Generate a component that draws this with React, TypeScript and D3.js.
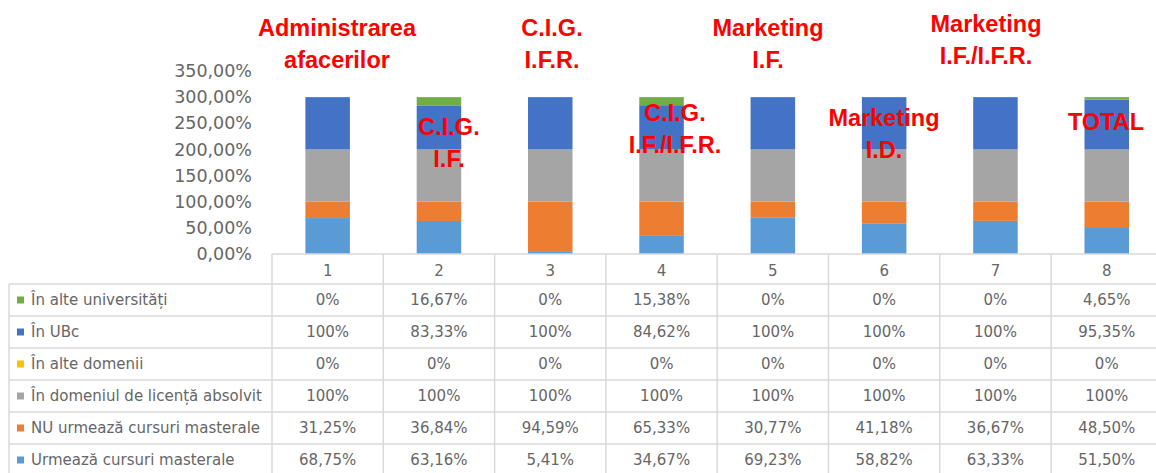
import React from "react";
import * as d3 from "d3";

const categories = ["1", "2", "3", "4", "5", "6", "7", "8"];
const seriesNames = [
  "Urmează cursuri masterale",
  "NU urmează cursuri masterale",
  "În domeniul de licență absolvit",
  "În alte domenii",
  "În UBc",
  "În alte universități",
];
const urmeaza = [68.75, 63.16, 5.41, 34.67, 69.23, 58.82, 63.33, 51.5];
const nuUrmeaza = [31.25, 36.84, 94.59, 65.33, 30.77, 41.18, 36.67, 48.5];
const inDomeniu = [100, 100, 100, 100, 100, 100, 100, 100];
const alteDomenii = [0, 0, 0, 0, 0, 0, 0, 0];
const inUBc = [100, 83.33, 100, 84.62, 100, 100, 100, 95.35];
const alteUniv = [0, 16.67, 0, 15.38, 0, 0, 0, 4.65];
const seriesValues = [urmeaza, nuUrmeaza, inDomeniu, alteDomenii, inUBc, alteUniv];
const seriesColors = ["#5B9BD5", "#ED7D31", "#A5A5A5", "#FFC000", "#4472C4", "#70AD47"];
const yTicks = [0, 50, 100, 150, 200, 250, 300, 350];
const annotations = [
  { lines: ["Administrarea", "afacerilor"], x: 337, y: 28 },
  { lines: ["C.I.G.", "I.F."], x: 449, y: 127 },
  { lines: ["C.I.G.", "I.F.R."], x: 552, y: 28 },
  { lines: ["C.I.G.", "I.F./I.F.R."], x: 675, y: 113 },
  { lines: ["Marketing", "I.F."], x: 768, y: 28 },
  { lines: ["Marketing", "I.D."], x: 884, y: 118 },
  { lines: ["Marketing", "I.F./I.F.R."], x: 986, y: 24 },
  { lines: ["TOTAL"], x: 1106, y: 122 },
];

const fmt = (v: number) =>
  Number.isInteger(v) ? `${v}%` : `${v.toFixed(2).replace(".", ",")}%`;
const fmtAxis = (v: number) => `${v.toFixed(2).replace(".", ",")}%`;

export default function App() {
  const W = 1156, H = 473;
  const plotLeft = 272, plotRight = 1162.4;
  const x = d3.scaleBand<string>().domain(categories).range([plotLeft, plotRight]).paddingInner(0.6).paddingOuter(0.3);
  const colScale = d3.scaleBand<string>().domain(categories).range([plotLeft, plotRight]);
  const y = d3.scaleLinear().domain([0, 350]).range([254, 71]);

  const rows = categories.map((c, i) => {
    const o: any = { cat: c };
    seriesNames.forEach((s, k) => (o[s] = seriesValues[k][i]));
    return o;
  });
  const stack = d3.stack<any>().keys(seriesNames)(rows);

  const tableTop = 254, headerH = 30, rowH = 32;
  const tableLeft = 9;
  const tableRows = [...seriesNames.map((s, k) => ({ name: s, vals: seriesValues[k], color: seriesColors[k] }))].reverse();
  const border = "#D9D9D9";
  const textCol = "#666666";
  const font = "'DejaVu Sans', sans-serif";

  return (
    <svg width={W} height={H} style={{ position: "absolute", left: 0, top: 0, background: "#fff" }}>
      <rect width={W} height={H} fill="#fff" />
      {yTicks.map((t) => (
        <text key={t} x={252} y={y(t)} dy="0.35em" textAnchor="end" fontFamily={font} fontSize={17.5} fill={textCol}>
          {fmtAxis(t)}
        </text>
      ))}
      {stack.map((layer, k) => (
        <g key={layer.key} fill={seriesColors[k]}>
          {layer.map((d, i) =>
            d[1] - d[0] > 0 ? (
              <rect key={i} x={x(categories[i])} width={x.bandwidth()} y={y(d[1])} height={y(d[0]) - y(d[1])} />
            ) : null
          )}
        </g>
      ))}
      <g stroke={border} strokeWidth={1.5} fill="none">
        <line x1={plotLeft} x2={plotRight} y1={tableTop} y2={tableTop} />
        {categories.map((c) => (
          <line key={c} x1={colScale(c)} x2={colScale(c)} y1={tableTop} y2={H} />
        ))}
        <line x1={plotRight} x2={plotRight} y1={tableTop} y2={H} />
        <line x1={tableLeft} x2={tableLeft} y1={tableTop + headerH} y2={H} />
        {tableRows.map((r, i) => (
          <line key={r.name} x1={tableLeft} x2={plotRight} y1={tableTop + headerH + i * rowH} y2={tableTop + headerH + i * rowH} />
        ))}
        <line x1={tableLeft} x2={plotRight} y1={tableTop + headerH + 6 * rowH} y2={tableTop + headerH + 6 * rowH} />
      </g>
      {categories.map((c) => (
        <text key={c} x={colScale(c)! + colScale.bandwidth() / 2} y={tableTop + headerH / 2 + 2} dy="0.35em" textAnchor="middle" fontFamily={font} fontSize={15} fill={textCol}>
          {c}
        </text>
      ))}
      {tableRows.map((r, i) => {
        const cy = tableTop + headerH + i * rowH + rowH / 2;
        return (
          <g key={r.name}>
            <rect x={17} y={cy - 3.5} width={7} height={7} fill={r.color} />
            <text x={31} y={cy} dy="0.35em" fontFamily={font} fontSize={15} fill={textCol}>
              {r.name}
            </text>
            {r.vals.map((v, j) => (
              <text key={j} x={colScale(categories[j])! + colScale.bandwidth() / 2} y={cy} dy="0.35em" textAnchor="middle" fontFamily={font} fontSize={15} fill={textCol}>
                {fmt(v)}
              </text>
            ))}
          </g>
        );
      })}
      {annotations.map((a, i) => (
        <text key={i} textAnchor="middle" fontFamily="'Liberation Sans', Arial, sans-serif" fontWeight="bold" fontSize={23.5} fill="#FF0000">
          {a.lines.map((l, k) => (
            <tspan key={k} x={a.x} y={a.y + k * 32} dy="0.35em">
              {l}
            </tspan>
          ))}
        </text>
      ))}
    </svg>
  );
}
